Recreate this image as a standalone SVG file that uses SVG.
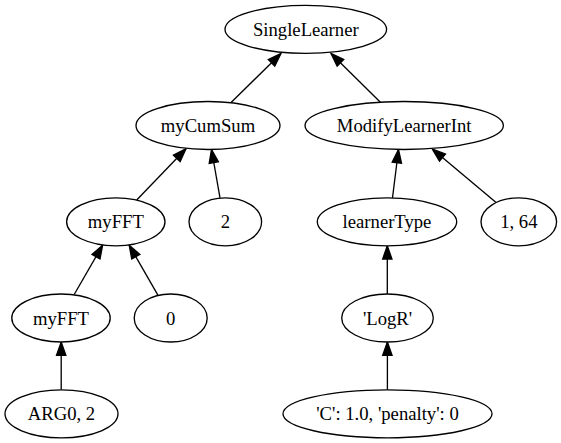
<svg xmlns="http://www.w3.org/2000/svg" width="561" height="443" viewBox="0 0 561 443">
<style>
.n ellipse{fill:#fff;stroke:#000;stroke-width:1.33}
.n text{font-family:"Liberation Serif","Times New Roman",serif;font-size:18.67px;fill:#000;text-anchor:middle}
.e line{stroke:#000;stroke-width:1.33;fill:none;marker-end:url(#arr)}
</style>
<defs>
<marker id="arr" markerUnits="userSpaceOnUse" markerWidth="16" markerHeight="12" refX="13.3" refY="4.67" orient="auto" overflow="visible">
<path d="M0,0 L13.3,4.67 L0,9.33 Z" fill="#000" stroke="#000" stroke-width="1.33"/>
</marker>
</defs>
<rect width="561" height="443" fill="#fff"/>
<g id="edges" class="e">
<line x1="231.3" y1="102.3" x2="281" y2="53.5"/>
<line x1="380.4" y1="102.2" x2="331" y2="53.5"/>
<line x1="136.7" y1="200" x2="186" y2="148.7"/>
<line x1="220" y1="197.8" x2="211.5" y2="149.5"/>
<line x1="392.5" y1="198" x2="398.5" y2="149.5"/>
<line x1="495.8" y1="202.3" x2="432.3" y2="149"/>
<line x1="74.2" y1="294.5" x2="102.6" y2="245.2"/>
<line x1="157.9" y1="295.2" x2="129.2" y2="245.2"/>
<line x1="61.2" y1="389.8" x2="61.2" y2="342"/>
<line x1="387.4" y1="389.8" x2="387.4" y2="342"/>
<line x1="387.3" y1="294" x2="387.3" y2="245.8"/>
</g>
<g id="n_singlelearner" class="n"><ellipse cx="305.8" cy="29.3" rx="80.8" ry="24"/><text x="305.8" y="35.8">SingleLearner</text></g>
<g id="n_mycumsum" class="n"><ellipse cx="208" cy="125.5" rx="72" ry="24"/><text x="208" y="132">myCumSum</text></g>
<g id="n_modifylearnerint" class="n"><ellipse cx="404.2" cy="125.5" rx="99.2" ry="24"/><text x="404.2" y="132">ModifyLearnerInt</text></g>
<g id="n_myfft1" class="n"><ellipse cx="115.8" cy="221.8" rx="49.2" ry="24"/><text x="115.8" y="228.3">myFFT</text></g>
<g id="n_2" class="n"><ellipse cx="225.3" cy="221.8" rx="36.3" ry="24"/><text x="225.3" y="228.3">2</text></g>
<g id="n_learnertype" class="n"><ellipse cx="387" cy="221.8" rx="69.7" ry="24"/><text x="387" y="228.3">learnerType</text></g>
<g id="n_164" class="n"><ellipse cx="518.8" cy="221.8" rx="37.8" ry="24"/><text x="518.8" y="228.3">1, 64</text></g>
<g id="n_myfft2" class="n"><ellipse cx="61" cy="318" rx="49.2" ry="24"/><text x="61" y="324.5">myFFT</text></g>
<g id="n_0" class="n"><ellipse cx="170.7" cy="318" rx="36.5" ry="24"/><text x="170.7" y="324.5">0</text></g>
<g id="n_logr" class="n"><ellipse cx="387.5" cy="318" rx="45.8" ry="24"/><text x="387.5" y="324.5">'LogR'</text></g>
<g id="n_arg0" class="n"><ellipse cx="61.5" cy="413.8" rx="56.5" ry="24"/><text x="61.5" y="420.3">ARG0, 2</text></g>
<g id="n_cpenalty" class="n"><ellipse cx="387.5" cy="413.8" rx="104.5" ry="24"/><text x="387.5" y="420.3">'C': 1.0, 'penalty': 0</text></g>
</svg>
